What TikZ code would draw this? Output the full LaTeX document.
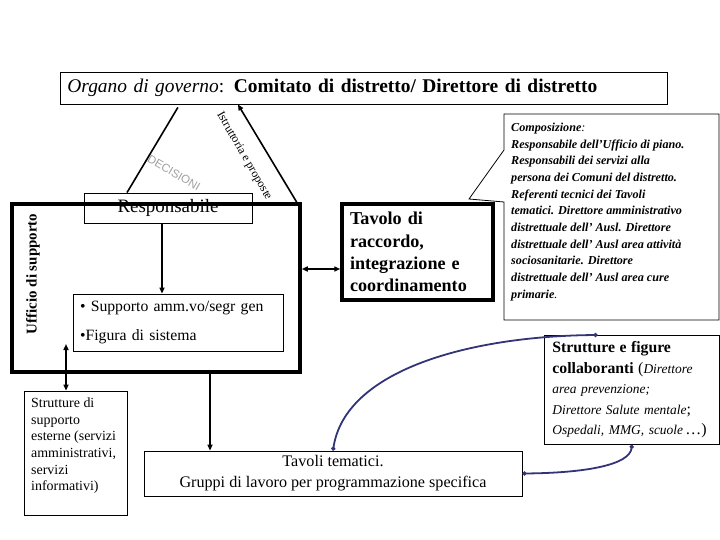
\documentclass[tikz,border=0pt]{standalone}
\usepackage{fontspec}
\setmainfont{Liberation Serif}
\newfontfamily\sansfont{Liberation Sans}
\usetikzlibrary{arrows.meta}

\definecolor{linkblue}{RGB}{51,51,119}
\newcommand\fs[2]{\fontsize{#1}{#2}\selectfont}

\begin{document}
\begin{tikzpicture}[x=1bp,y=-1bp,box/.style={draw,line width=0.8bp,inner sep=0pt},heavybox/.style={draw,line width=3.5bp,inner sep=0pt},link/.style={line width=1.6bp},single/.style={link,-{Triangle[length=6bp,width=5bp]}},dbl/.style={link,{Triangle[length=6bp,width=5bp]}-{Triangle[length=6bp,width=5bp]}},collab/.style={draw=linkblue,line width=1.8bp,{Circle[length=4bp]}-{Circle[length=4bp]}}]
\useasboundingbox (0,0) rectangle (720,540);
% top
\node[box,anchor=west,minimum height=32bp,text width=593bp,inner xsep=7bp,align=left,font=\fs{19.5}{22}] (organo) at (60,88) {\textit{Organo di governo}: \textbf{Comitato di distretto/ Direttore di distretto}};
% ufficio di supporto
\node[box,fill=white,minimum width=168bp,minimum height=30bp,font=\fs{19}{22}] (resp) at (168,208) {Responsabile};
\node[heavybox,minimum width=288bp,minimum height=168bp] (ufficio) at (156,288) {};
\node[rotate=90,font=\fs{15}{18}\bfseries] (ufflabel) at (33,274) {Ufficio di supporto};
\node[box,minimum height=57bp,text width=196bp,inner xsep=7bp,align=left,font=\fs{15.8}{30}] (supporto) at (178,322.5) {\textbullet\ Supporto amm.vo/segr gen\\\textbullet Figura di sistema};
\node[rotate=-30,text=gray!75,font=\sansfont\fs{11.5}{13}] (decisioni) at (174,173) {DECISIONI};
\node[rotate=-60,font=\fs{12}{14}] (istruttoria) at (244,156) {Istruttoria e proposte};
% tavolo
\node[heavybox,minimum height=96bp,text width=135bp,inner xsep=8bp,align=left,font=\fs{18.2}{22.3}\bfseries] (tavolo) at (417.5,252) {Tavolo di\\raccordo,\\integrazione e\\coordinamento};
\draw[line width=0.8bp] (504,114) -- (719,114) -- (719,320) -- (504,320) -- (504,202) -- (469,199) -- (504,150) -- cycle;
\node[anchor=north west,align=left,inner sep=0pt,font=\fs{12.2}{16.7}\bfseries\itshape] (compos) at (511,123) {Composizione\textmd{:}\\Responsabile dell’Ufficio di piano.\\Responsabili dei servizi alla\\persona dei Comuni del distretto.\\Referenti tecnici dei Tavoli\\tematici. Direttore amministrativo\\distrettuale dell’ Ausl. Direttore\\distrettuale dell’ Ausl area attività\\sociosanitarie. Direttore\\distrettuale dell’ Ausl area cure\\primarie\textmd{.}};
% bottom
\node[box,anchor=north west,minimum height=109bp,text width=159bp,inner xsep=8bp,align=left,font=\fs{13.5}{20.7}] (strutture) at (544,335) {\textbf{\fs{15.8}{20.7}Strutture e figure}\\\textbf{\fs{15.8}{20.7}collaboranti} {\fs{16}{20.7}(}\textit{Direttore}\\\textit{area prevenzione;}\\\textit{Direttore Salute mentale}{\fs{16}{20.7};}\\\textit{Ospedali, MMG, scuole}\,{\fs{16}{20.7}\dots)}};
\node[box,minimum width=103bp,minimum height=124bp] (esterne) at (75.5,453) {};
\node[anchor=north west,align=left,inner sep=0pt,font=\fs{14}{16.6}] (esttext) at (31,398) {Strutture di\\supporto\\esterne (servizi\\amministrativi,\\servizi\\informativi)};
\node[box,minimum width=378bp,minimum height=45bp,align=center,font=\fs{16.2}{21}] (tematici) at (333,473.5) {Tavoli tematici.\\Gruppi di lavoro per programmazione specifica};
% connectors
\coordinate (linkU) at ([yshift=19bp]ufficio.east);
\coordinate (downU) at ([xshift=54bp]ufficio.south);
\coordinate (downR) at ([xshift=-6bp]resp.south);
\coordinate (supU) at (66,344);
\draw[link] ([xshift=-41bp]resp.north) -- ([xshift=-186bp,yshift=-3bp]organo.south);
\draw[single] ([xshift=-5bp]ufficio.north east) -- ([xshift=-126bp]organo.south);
\draw[single] (downR) -- (downR |- supporto.north);
\draw[dbl] (linkU) -- (linkU -| tavolo.west);
\draw[single] (downU) -- (downU |- tematici.north);
\draw[dbl] ([xshift=-9.5bp]esterne.north) -- (supU);
\draw[collab] (tematici.north) .. controls (345,370) and (470,336) .. ([xshift=-34.5bp]strutture.north);
\draw[collab] (tematici.east) .. controls (585,473) and (630,465) .. (strutture.south);
\end{tikzpicture}
\end{document}
